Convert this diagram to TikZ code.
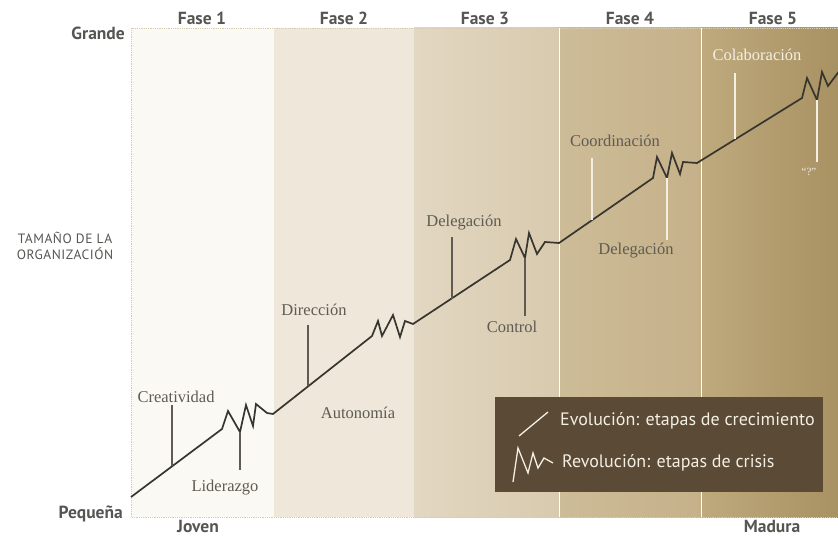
\documentclass[tikz,border=0pt]{standalone}
\usepackage{fontspec}
\setmainfont{Liberation Serif}
\newfontfamily\sansf{PT Sans}
\newfontfamily\sansw[LetterSpace=4]{PT Sans}
\definecolor{fA}{HTML}{FBF9F4}
\definecolor{fB}{HTML}{EEE7DA}
\definecolor{fCl}{HTML}{E2D7C2}
\definecolor{fCr}{HTML}{D8CAAE}
\definecolor{fDl}{HTML}{CDBC98}
\definecolor{fDr}{HTML}{C5B189}
\definecolor{fEl}{HTML}{BFAA7E}
\definecolor{fEr}{HTML}{A89162}
\definecolor{linec}{HTML}{36352E}
\definecolor{labc}{HTML}{5E5B52}
\definecolor{headc}{HTML}{555552}
\definecolor{cream}{HTML}{F4EFE3}
\definecolor{legbg}{HTML}{5A4A36}
\definecolor{borderc}{HTML}{D6CAB2}
\tikzset{
  mainline/.style={draw=linec,line width=1.7pt,line join=miter},
  darktick/.style={draw=labc,line width=1.2pt},
  lighttick/.style={draw=cream,line width=1.2pt},
  lab/.style={font=\fontsize{16.5}{18}\selectfont,text=labc,inner sep=0pt,anchor=base},
  lightlab/.style={lab,text=cream},
  head/.style={font=\sansf\bfseries\fontsize{17.5}{19}\selectfont,text=headc,inner sep=0pt,anchor=base},
  legtext/.style={font=\sansf\fontsize{18}{20}\selectfont,text=cream,inner sep=0pt,anchor=base west},
}
\begin{document}
\begin{tikzpicture}[x=1pt,y=-1pt]
\useasboundingbox (0,0) rectangle (838,537);
\clip (0,0) rectangle (838,537);
% phase columns
\fill[fA] (131,28) rectangle (274,517);
\fill[fB] (274,28) rectangle (414,517);
\shade[left color=fCl,right color=fCr] (414,28) rectangle (559,517);
\shade[left color=fDl,right color=fDr] (559,28) rectangle (701,517);
\shade[left color=fEl,right color=fEr] (701,28) rectangle (838,517);
\draw[white,line width=0.8pt] (559,28) -- (559,517);
\draw[white,line width=0.8pt] (701,28) -- (701,517);
\draw[borderc,densely dotted,line width=0.8pt] (838,28) -- (131,28) -- (131,517) -- (838,517);
% headers
\node[head] (h1) at (202,25) {Fase 1};
\node[head] (h2) at (344,25) {Fase 2};
\node[head] (h3) at (485,25) {Fase 3};
\node[head] (h4) at (630,25) {Fase 4};
\node[head] (h5) at (773,25) {Fase 5};
\node[head,anchor=base east] (grande) at (125,40) {Grande};
\node[head,anchor=base east] (peq) at (123,518) {Pequeña};
\node[head] (joven) at (198,532) {Joven};
\node[head] (madura) at (772,532) {Madura};
\node[font=\sansw\fontsize{13.5}{16.5}\selectfont,text=headc,inner sep=0pt,align=center,anchor=base] (tam) at (65,260) {TAMAÑO DE LA\\ORGANIZACIÓN};
% main line coordinates
\coordinate (p0) at (131,497);
\coordinate (z1a) at (222,429);
\coordinate (z1t) at (240,432);
\coordinate (z1e) at (273,414);
\coordinate (z2a) at (372,336);
\coordinate (z2e) at (413,324);
\coordinate (z3a) at (510,260);
\coordinate (z3t) at (525,258);
\coordinate (z3e) at (559,243);
\coordinate (z4a) at (653,178);
\coordinate (z4t) at (667,178);
\coordinate (z4e) at (697,163);
\coordinate (z5a) at (802,98);
\coordinate (z5t) at (817,100);
\draw[mainline] (p0) -- (z1a) -- (228,411) -- (z1t) -- (246,405) -- (253,426) -- (256,404) -- (267,413) -- (z1e)
  -- (z2a) -- (378,321) -- (382,336) -- (393,315) -- (400,337) -- (405,321) -- (z2e)
  -- (z3a) -- (516,239) -- (z3t) -- (529,233) -- (537,254) -- (545,242) -- (z3e)
  -- (z4a) -- (657,157) -- (z4t) -- (672,153) -- (680,174) -- (683,162) -- (z4e)
  -- (z5a) -- (807,78) -- (z5t) -- (822,72) -- (828,86) -- (846,62);
% evolution ticks
\coordinate (e1) at (172,466); \coordinate (e1t) at (172,405);
\coordinate (e2) at (308,386); \coordinate (e2t) at (308,325);
\coordinate (e3) at (452,299); \coordinate (e3t) at (452,237);
\coordinate (e4) at (592,220); \coordinate (e4t) at (592,158);
\coordinate (e5) at (735,139); \coordinate (e5t) at (735,73);
\draw[darktick] (e1) -- (e1t);
\draw[darktick] (e2) -- (e2t);
\draw[darktick] (e3) -- (e3t);
\draw[lighttick] (e4) -- (e4t);
\draw[lighttick] (e5) -- (e5t);
% revolution ticks
\coordinate (r1b) at (240,470);
\coordinate (r3b) at (525,316);
\coordinate (r4b) at (667,240);
\coordinate (r5b) at (817,162);
\draw[darktick] (z1t) -- (r1b);
\draw[darktick] (z3t) -- (r3b);
\draw[lighttick] (z4t) -- (r4b);
\draw[lighttick] (z5t) -- (r5b);
% labels
\node[lab] (creat) at (176,402) {Creatividad};
\node[lab] (lider) at (225,491) {Liderazgo};
\node[lab] (dir) at (314,316) {Dirección};
\node[lab] (auto) at (358,418) {Autonomía};
\node[lab] (del3) at (464,227) {Delegación};
\node[lab] (ctrl) at (512,333) {Control};
\node[lab] (coord) at (615,147) {Coordinación};
\node[lab] (del4) at (636,255) {Delegación};
\node[lightlab] (colab) at (757,61) {Colaboración};
\node[lightlab,font=\fontsize{11}{13}\selectfont] (quest) at (809,176) {“?”};
% legend
\fill[legbg] (495,397) rectangle (823,492);
\coordinate (l1a) at (519,436); \coordinate (l1b) at (548,412);
\draw[cream,line width=1.3pt] (l1a) -- (l1b);
\coordinate (l2a) at (513,482);
\draw[cream,line width=1.3pt,line join=miter] (l2a) -- (518,448) -- (528,473) -- (533,453) -- (538,468) -- (544,458) -- (553,463);
\node[legtext] (ev) at (560,425) {Evolución: etapas de crecimiento};
\node[legtext] (rev) at (562,467) {Revolución: etapas de crisis};
\end{tikzpicture}
\end{document}
